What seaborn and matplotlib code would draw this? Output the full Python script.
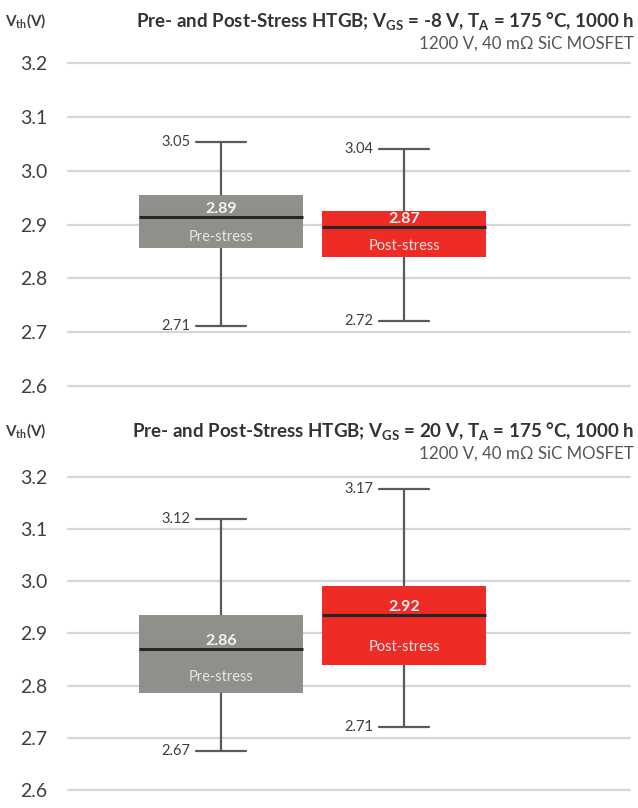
import matplotlib
matplotlib.use("Agg")
import matplotlib.pyplot as plt
import seaborn as sns
import pandas as pd

# categories
stages = ["Pre-stress", "Post-stress"]

# VGS = -8 V panel (five-number summaries)
neg_lo = [2.711, 2.720]
neg_q1 = [2.856, 2.840]
neg_med = [2.914, 2.895]
neg_q3 = [2.955, 2.925]
neg_hi = [3.053, 3.041]
neg_mean = [2.89, 2.87]
neg_lo_lbl = [2.71, 2.72]
neg_hi_lbl = [3.05, 3.04]

# VGS = 20 V panel
pos_lo = [2.675, 2.721]
pos_q1 = [2.786, 2.840]
pos_med = [2.871, 2.935]
pos_q3 = [2.936, 2.992]
pos_hi = [3.120, 3.177]
pos_mean = [2.86, 2.92]
pos_lo_lbl = [2.67, 2.71]
pos_hi_lbl = [3.12, 3.17]

yticks = [2.6, 2.7, 2.8, 2.9, 3.0, 3.1, 3.2]

titles = [
    r"Pre- and Post-Stress HTGB; V$_{\mathbf{GS}}$ = -8 V, T$_{\mathbf{A}}$ = 175 °C, 1000 h",
    r"Pre- and Post-Stress HTGB; V$_{\mathbf{GS}}$ = 20 V, T$_{\mathbf{A}}$ = 175 °C, 1000 h",
]
subtitle = "1200 V, 40 mΩ SiC MOSFET"

sns.set_style("white")
plt.rcParams["font.family"] = ["Lato", "DejaVu Sans"]
plt.rcParams["mathtext.fontset"] = "custom"
plt.rcParams["mathtext.rm"] = "Lato"
plt.rcParams["mathtext.bf"] = "Lato:bold"
plt.rcParams["mathtext.it"] = "Lato:italic"

gray = "#8D9189"
red = "#EE2B24"
dark = "#3F3F3F"
W, H = 638, 808

fig = plt.figure(figsize=(W / 100, H / 100), dpi=100)
ax_top = fig.add_axes([68 / W, 1 - 386 / H, 562 / W, 323 / H])
ax_bot = fig.add_axes([68 / W, 1 - 790 / H, 562 / W, 313 / H])

panels = [
    (ax_top, neg_lo, neg_q1, neg_med, neg_q3, neg_hi, neg_mean, neg_lo_lbl, neg_hi_lbl, 21),
    (ax_bot, pos_lo, pos_q1, pos_med, pos_q3, pos_hi, pos_mean, pos_lo_lbl, pos_hi_lbl, 431),
]

capw = 0.27
for i, (ax, lo, q1, med, q3, hi, mean, lo_lbl, hi_lbl, ty) in enumerate(panels):
    rows = []
    for k, s in enumerate(stages):
        for v in [lo[k], q1[k], med[k], q3[k], hi[k]]:
            rows.append({"stage": s, "vth": v})
    df = pd.DataFrame(rows)

    sns.boxplot(data=df, x="stage", y="vth", hue="stage", palette=[gray, red],
                saturation=1, width=0.9, whis=(0, 100), legend=False, ax=ax,
                capwidths=capw,
                boxprops={"linewidth": 0},
                medianprops={"color": "#262626", "linewidth": 2.2},
                whiskerprops={"color": "#5A5A5A", "linewidth": 1.6},
                capprops={"color": "#5A5A5A", "linewidth": 1.6})

    for k in range(len(stages)):
        ax.annotate(f"{hi_lbl[k]:.2f}", (k - capw / 2, hi[k]), xytext=(-6, 0),
                    textcoords="offset pixels", ha="right", va="center",
                    fontsize=10.5, color=dark)
        ax.annotate(f"{lo_lbl[k]:.2f}", (k - capw / 2, lo[k]), xytext=(-6, 0),
                    textcoords="offset pixels", ha="right", va="center",
                    fontsize=10.5, color=dark)
        ax.annotate(f"{mean[k]:.2f}", (k, med[k]), xytext=(0, 8),
                    textcoords="offset pixels", ha="center", va="center",
                    fontsize=11.5, fontweight="bold", color="#F4F4F4")
        ax.text(k, med[k] - 0.65 * (med[k] - q1[k]), stages[k], ha="center",
                va="center", fontsize=10.5, color="#E6E6E6")

    ax.set_xlim(-0.836, 2.235)
    ax.set_ylim(2.6, 3.2)
    ax.set_yticks(yticks)
    ax.set_yticklabels([f"{t:.1f}" for t in yticks])
    ax.tick_params(axis="y", length=0, pad=15, labelsize=14, labelcolor=dark)
    ax.set_xticks([])
    ax.set_xlabel("")
    ax.set_ylabel("")
    ax.grid(axis="y", color="#D6D6D6", linewidth=1.6)
    ax.set_axisbelow(True)
    for gl in ax.get_ygridlines():
        gl.set_clip_on(False)
    sns.despine(ax=ax, left=True, bottom=True)

    fig.text(5 / W, 1 - ty / H, r"V$_{\mathbf{th}}$(V)", ha="left", va="center",
             fontsize=11, fontweight="bold", color=dark)
    fig.text(634 / W, 1 - ty / H, titles[i], ha="right", va="center",
             fontsize=13.5, fontweight="bold", color="#333333")
    fig.text(634 / W, 1 - (ty + 23) / H, subtitle, ha="right", va="center",
             fontsize=12.2, color="#555555")

fig.savefig("out.png", dpi=100)
